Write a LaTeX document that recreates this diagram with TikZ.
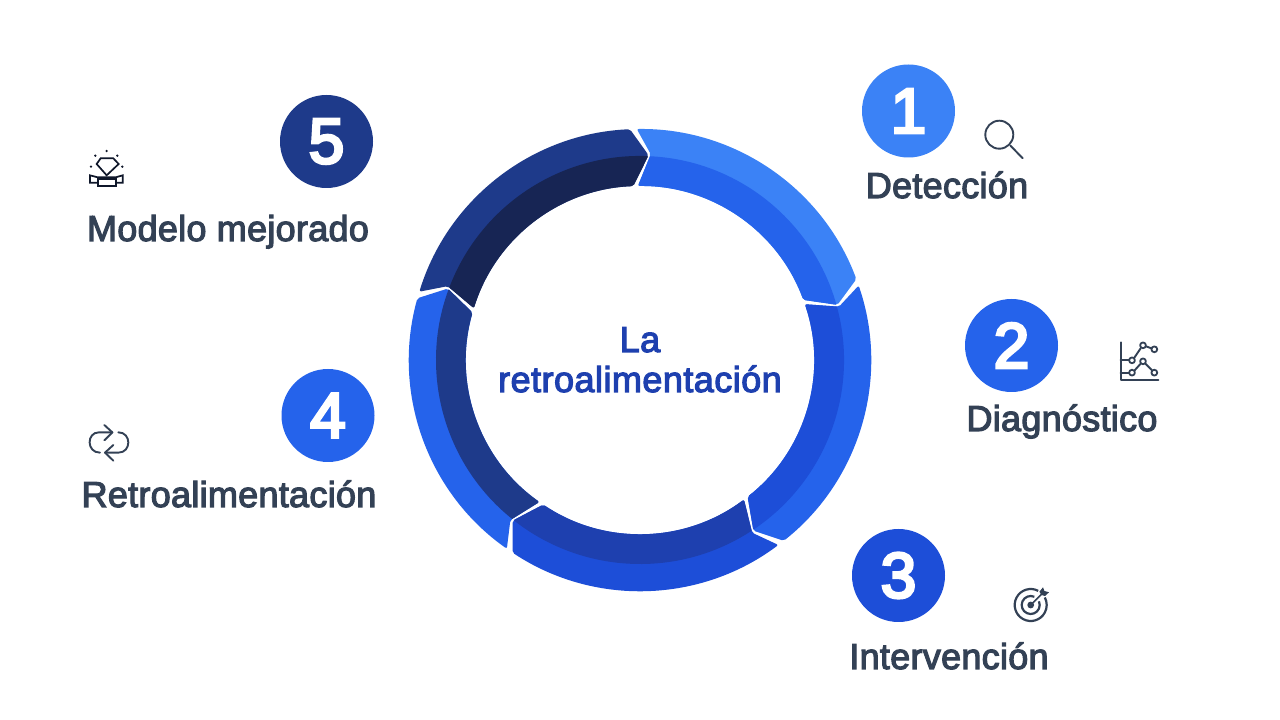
\documentclass[tikz,border=0pt]{standalone}
\usepackage{fontspec}
\setmainfont{Liberation Sans}[FakeBold=3.2,LetterSpace=0.8]
\newfontfamily\centerfont{Liberation Sans}[FakeBold=3.2,LetterSpace=1.3]
\newfontfamily\numfont{Liberation Sans}[FakeBold=4.5]
\definecolor{slate}{HTML}{334155}
\definecolor{cA}{HTML}{3B82F6}
\definecolor{cB}{HTML}{2563EB}
\definecolor{cC}{HTML}{1D4ED8}
\definecolor{cD}{HTML}{1E40AF}
\definecolor{cE}{HTML}{1E3A8A}
\definecolor{cF}{HTML}{172554}
\definecolor{ink}{HTML}{0F172A}
\tikzset{
  x=1pt,y=1pt,
  numdot/.style={circle,minimum size=93pt,inner sep=0pt,text=white,font=\numfont\fontsize{64}{64}\selectfont},
  lab/.style={text=slate,inner sep=0pt,anchor=base,font=\fontsize{36}{36}\selectfont},
  centerlab/.style={text=cD,inner sep=0pt,anchor=base,font=\centerfont\fontsize{36}{36}\selectfont},
  icon/.style={draw=slate,line width=1.9pt,line cap=round,line join=round},
  gem/.style={draw=ink,line width=1.7pt,line join=miter},
}
\newcommand{\ringseg}[3]{%
  \begin{scope}[shift={(640,360)},rotate=#1]
    \begin{scope}
      \clip[rounded corners=2pt]
        (90.8:231pt) arc[start angle=90.8,end angle=20.5,radius=231pt]
        -- (15.6:205pt) -- (20.2:174pt)
        arc[start angle=20.2,end angle=90.7,radius=174pt]
        -- (87:206pt) -- cycle;
      \fill[#2] (0,0) circle[radius=240pt];
      \fill[#3] (0,0) circle[radius=204pt];
    \end{scope}
  \end{scope}}
\begin{document}
\begin{tikzpicture}
\useasboundingbox (0,0) rectangle (1280,720);
\fill[white] (0,0) rectangle (1280,720);
\ringseg{0}{cA}{cB}
\ringseg{-72}{cB}{cC}
\ringseg{-144}{cC}{cD}
\ringseg{-216}{cB}{cE}
\ringseg{-288}{cE}{cF}

\node[centerlab] (ctitleA) at (640,368) {La};
\node[centerlab] (ctitleB) at (640,328) {retroalimentación};

\node[numdot,fill=cA] (n1) at (908.5,609) {1};
\node[numdot,fill=cB] (n2) at (1011.5,374.5) {2};
\node[numdot,fill=cC] (n3) at (898.5,144.5) {3};
\node[numdot,fill=cB] (n4) at (328,304.5) {4};
\node[numdot,fill=cE] (n5) at (326.5,578.5) {5};

\node[lab] (l1) at (947,522) {Detección};
\node[lab] (l2) at (1062,289) {Diagnóstico};
\node[lab] (l3) at (949,51) {Intervención};
\node[lab] (l4) at (229,213) {Retroalimentación};
\node[lab] (l5) at (228,479) {Modelo mejorado};

% magnifier
\draw[icon] (999.3,585.3) circle[radius=14pt];
\draw[icon] (1010.5,574.3) -- (1022.7,561.7);

% chart
\begin{scope}[shift={(1105,390)},x=0.3333pt,y=-0.3333pt]
  \draw[icon] (47,37) -- (47,150) -- (160,150);
  \draw[icon] (47,91) -- (72,91) (47,128) -- (72,128);
  \draw[icon] (88,83) -- (107,55) (123,49) -- (139,55);
  \draw[icon] (89,121) -- (107,101) (121,101) -- (141,121);
  \foreach \px/\py in {81/91,114/46,148/58,81/128,114/94,148/128}
    \draw[icon,line width=1.8pt] (\px,\py) circle[radius=2.9pt];
\end{scope}

% target
\begin{scope}[shift={(1030.7,115)}]
  \draw[icon,line width=2.2pt,line cap=butt] (62:16) arc[start angle=62,end angle=388,radius=16pt];
  \draw[icon,line width=2.2pt,line cap=butt] (66:9) arc[start angle=66,end angle=384,radius=9pt];
  \fill[slate] (0,0) circle[radius=3.4pt];
  \draw[icon,line width=1.6pt] (0,0) -- (11.5,11.5);
  \fill[slate] (8.7,13.3) -- (12.3,17.7) -- (13.7,14) -- (18.3,12.7) -- (14.3,9) -- (10.7,10) -- cycle;
\end{scope}

% loop arrows
\begin{scope}[shift={(75,305)},x=0.3333pt,y=-0.3333pt]
  \draw[icon] (112,52) -- (72,52) .. controls (34,52) and (34,113) .. (75,113);
  \draw[icon] (88,30) -- (112,52) -- (88,76);
  \draw[icon] (90,113) -- (130,113) .. controls (170,113) and (170,52) .. (130,52);
  \draw[icon] (115,90) -- (90,113) -- (115,137);
\end{scope}

% gem with ribbon
\begin{scope}[shift={(70,580)},x=0.3333pt,y=-0.3333pt]
  \draw[gem] (92,55) -- (130,55) -- (146,72) -- (110,106) -- (80,72) -- cycle;
  \draw[gem] (83,118) rectangle (137,138);
  \draw[gem] (83,128) -- (60,128) -- (60,106) -- (83,112) -- (137,112) -- (158,106) -- (158,128) -- (137,128);
  \foreach \px/\py in {110/33,76/47,142/47,63/80,157/80}
    \fill[ink] (\px,\py) circle[radius=1.3pt];
\end{scope}
\end{tikzpicture}
\end{document}
